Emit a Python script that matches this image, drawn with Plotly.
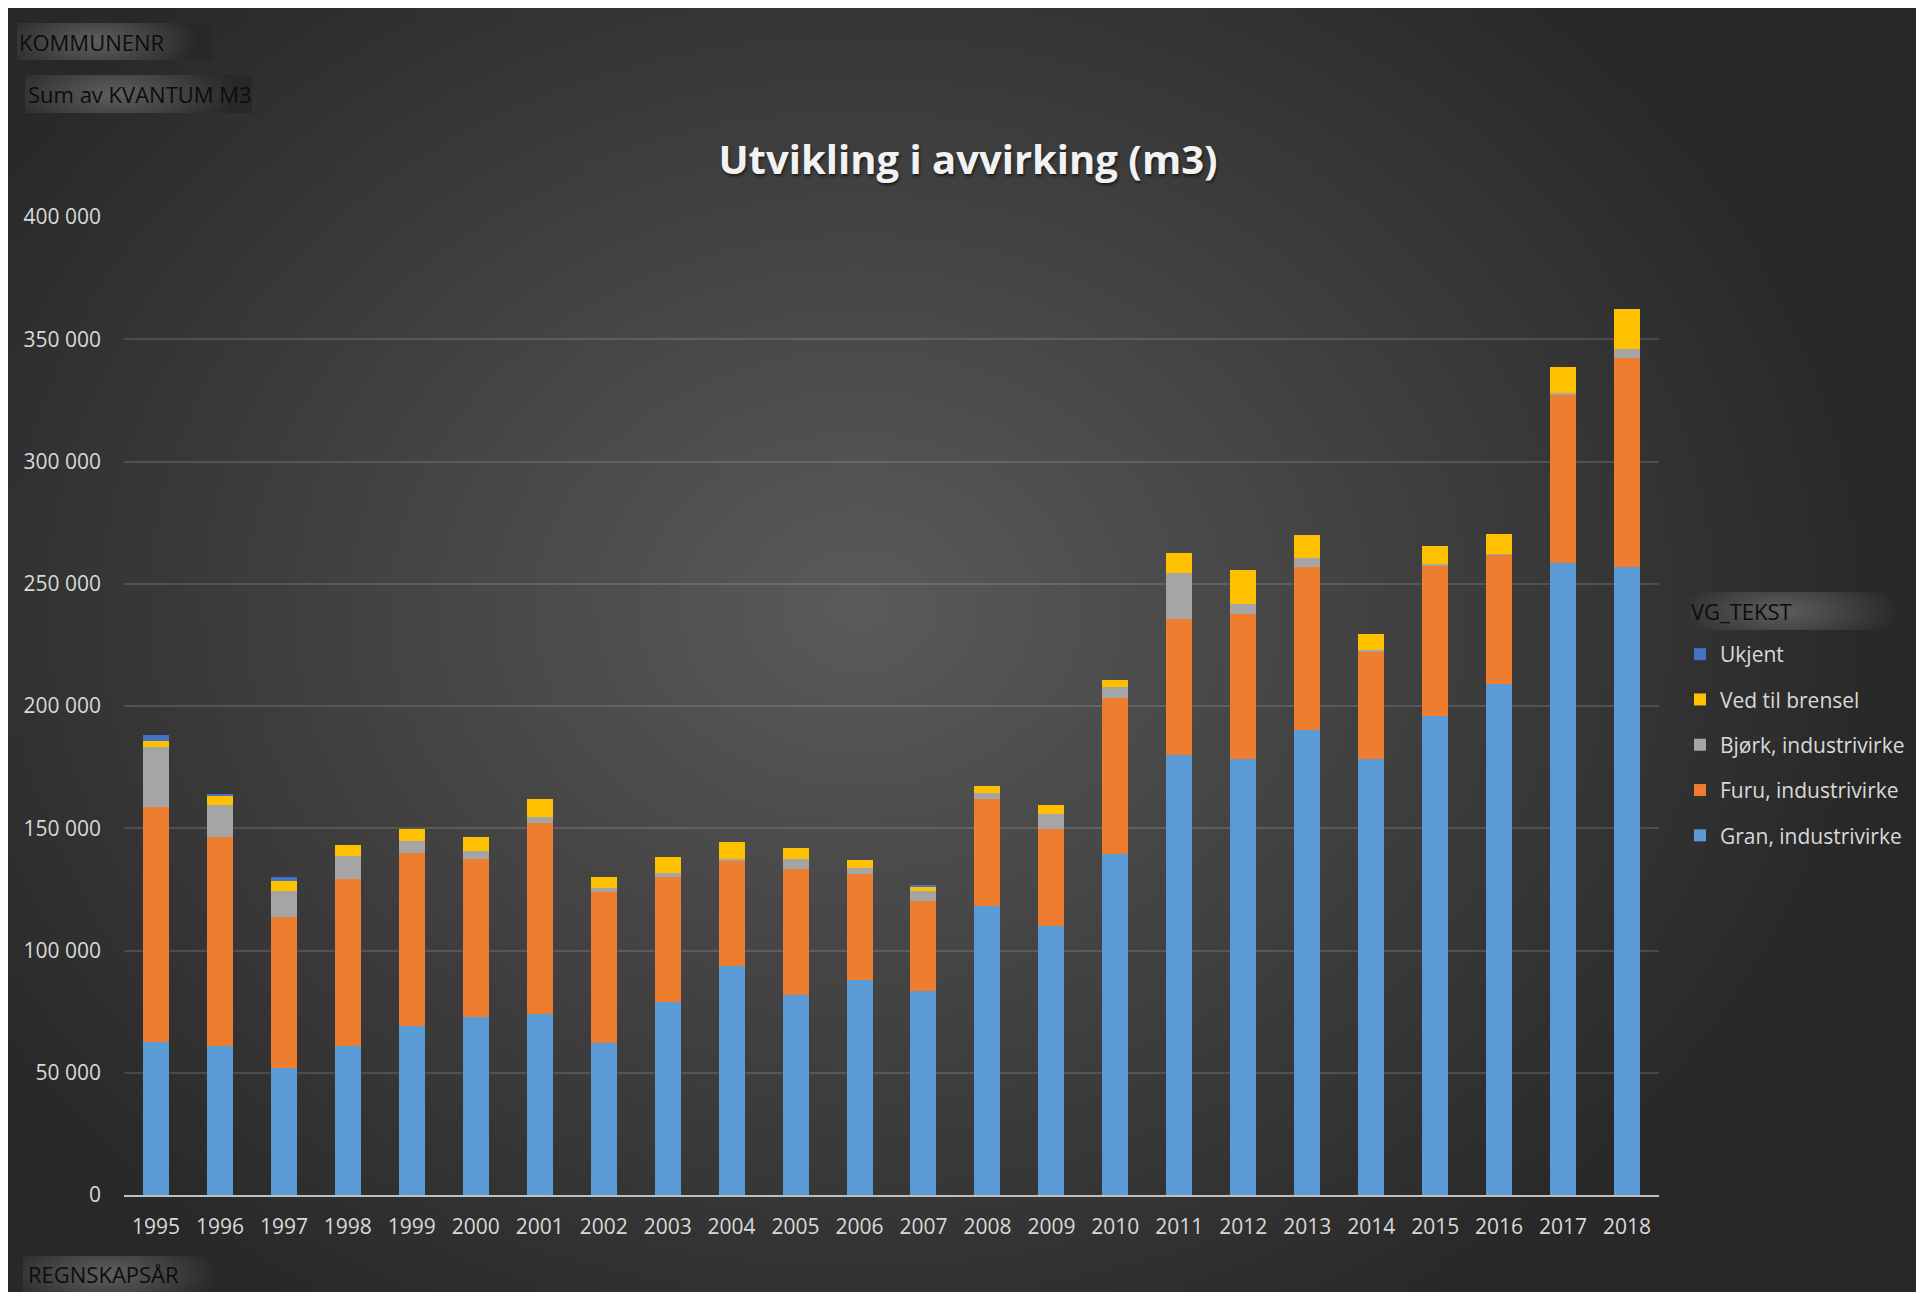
import base64
import struct
import zlib

import numpy as np
import plotly.graph_objects as go

# ---- data ----
years = ["1995", "1996", "1997", "1998", "1999", "2000", "2001", "2002",
         "2003", "2004", "2005", "2006", "2007", "2008", "2009", "2010",
         "2011", "2012", "2013", "2014", "2015", "2016", "2017", "2018"]

gran = [62700, 61100, 52100, 61100, 69300, 72600, 74200, 62300,
        78900, 93500, 81600, 87900, 83300, 118100, 109900, 139600,
        180100, 178500, 190200, 178200, 196000, 209200, 258600, 256700]
furu = [96000, 85500, 61400, 68200, 70400, 65000, 78000, 61800,
        51200, 43000, 51700, 43300, 36900, 43900, 39800, 63500,
        55400, 59000, 66700, 43700, 61500, 52600, 68600, 85500]
bjork = [24600, 13000, 10900, 9500, 5100, 2900, 2500, 1600,
         1600, 900, 4100, 2600, 4100, 2600, 6100, 4500,
         18800, 4200, 3600, 1000, 400, 500, 700, 4000]
ved = [2500, 3700, 4100, 4400, 5000, 6000, 7300, 4400,
       6400, 6900, 4500, 3100, 1600, 2600, 3700, 3200,
       8300, 13900, 9400, 6500, 7600, 8200, 10700, 16100]
ukjent = [2400, 800, 1600, 0, 0, 0, 0, 0,
          0, 0, 0, 0, 900, 0, 0, 0,
          0, 0, 0, 0, 0, 0, 0, 0]

series = [
    ("Gran, industrivirke", gran, "#5b9bd5"),
    ("Furu, industrivirke", furu, "#ef7d2f"),
    ("Bjørk, industrivirke", bjork, "#a5a5a5"),
    ("Ved til brensel", ved, "#ffc000"),
    ("Ukjent", ukjent, "#4472c4"),
]

# ---- geometry ----
W, H = 1908, 1284
ML, MR, MT, MB = 116, 257, 209, 97
PW, PH = W - ML - MR, H - MT - MB
FONT = "Open Sans"


def px(x):
    return (x - ML) / PW


def py(y):
    return 1 - (y - MT) / PH


def png_uri(arr):
    h, w = arr.shape
    raw = b"".join(b"\x00" + arr[i].tobytes() for i in range(h))

    def chunk(tag, data):
        c = struct.pack(">I", len(data)) + tag + data
        return c + struct.pack(">I", zlib.crc32(tag + data) & 0xffffffff)

    png = (b"\x89PNG\r\n\x1a\n"
           + chunk(b"IHDR", struct.pack(">IIBBBBB", w, h, 8, 0, 0, 0, 0))
           + chunk(b"IDAT", zlib.compress(raw))
           + chunk(b"IEND", b""))
    return "data:image/png;base64," + base64.b64encode(png).decode()


# radial background
gw, gh = 240, 160
xx, yy = np.meshgrid(np.linspace(0, W, gw), np.linspace(0, H, gh))
t = np.sqrt(((xx - 850) / 1050) ** 2 + ((yy - 600) / 850) ** 2)
bg = (0x5b - (0x5b - 0x28) * np.clip(t, 0, 1)).astype(np.uint8)

# field button highlight
bw, bh = 120, 24
bx, by = np.meshgrid(np.linspace(0, 1, bw), np.linspace(0, 1, bh))
tb = np.sqrt(((bx - 0.4) / 0.55) ** 2 + ((by - 0.5) / 1.2) ** 2)
btn = (0x60 - (0x60 - 0x28) * np.clip(tb, 0, 1)).astype(np.uint8)
btn_src = png_uri(btn)

fig = go.Figure()
for i, (name, vals, color) in enumerate(series):
    fig.add_trace(go.Bar(
        x=years, y=vals, name=name, legendgroup=str(i),
        legendrank=len(series) - i,
        marker=dict(color=color, line=dict(width=0)),
    ))

images = [dict(source=png_uri(bg), xref="paper", yref="paper",
               x=px(0), y=py(0), sizex=W / PW, sizey=H / PH,
               xanchor="left", yanchor="top", sizing="stretch", layer="below")]

buttons = [
    ("KOMMUNENR", 9, 15, 203, 52, 10),
    ("Sum av KVANTUM M3", 17, 67, 244, 105, 19),
    ("REGNSKAPSÅR", 15, 1248, 225, 1284, 19),
    ("VG_TEKST", 1682, 584, 1908, 622, 1682),
]
annotations = []
for label, x0, y0, x1, y1, tx in buttons:
    images.append(dict(source=btn_src, xref="paper", yref="paper",
                       x=px(x0), y=py(y0), sizex=(x1 - x0) / PW,
                       sizey=(y1 - y0) / PH, xanchor="left", yanchor="top",
                       sizing="stretch", layer="below"))
    annotations.append(dict(text=label, xref="paper", yref="paper",
                            x=px(tx), y=py((y0 + y1) / 2), xanchor="left",
                            yanchor="middle", showarrow=False, borderpad=0,
                            font=dict(family=FONT, size=22, color="#0d0d0d")))

fig.update_layout(
    width=W, height=H,
    margin=dict(l=ML, r=MR, t=MT, b=MB, autoexpand=False),
    paper_bgcolor="#3a3a3a",
    plot_bgcolor="rgba(0,0,0,0)",
    barmode="stack",
    bargap=0.593,
    separators=", ",
    images=images,
    annotations=annotations,
    title=dict(text="<b>Utvikling i avvirking (m3)</b>", xref="container",
               yref="container", x=960 / W, y=1 - 152 / H,
               xanchor="center", yanchor="middle",
               font=dict(family=FONT, size=40, color="#f2f2f2",
                         shadow="1px 2px 3px rgba(0,0,0,0.6)")),
    legend=dict(x=px(1672), y=py(626), xanchor="left", yanchor="top",
                traceorder="grouped", tracegroupgap=15,
                bgcolor="rgba(0,0,0,0)",
                font=dict(family=FONT, size=21, color="#d9d9d9")),
    font=dict(family=FONT, size=21, color="#d9d9d9"),
    xaxis=dict(showline=True, linecolor="#bfbfbf", linewidth=2,
               showgrid=False, ticks="", ticklabelstandoff=12,
               tickfont=dict(family=FONT, size=21, color="#d9d9d9")),
    yaxis=dict(range=[0, 400000], dtick=50000, tickformat=",d",
               showgrid=True, gridcolor="rgba(217,217,217,0.16)",
               gridwidth=1.5, zeroline=False, showline=False,
               ticklabelstandoff=22,
               tickfont=dict(family=FONT, size=21, color="#d9d9d9")),
)

fig.write_html("out.html")
